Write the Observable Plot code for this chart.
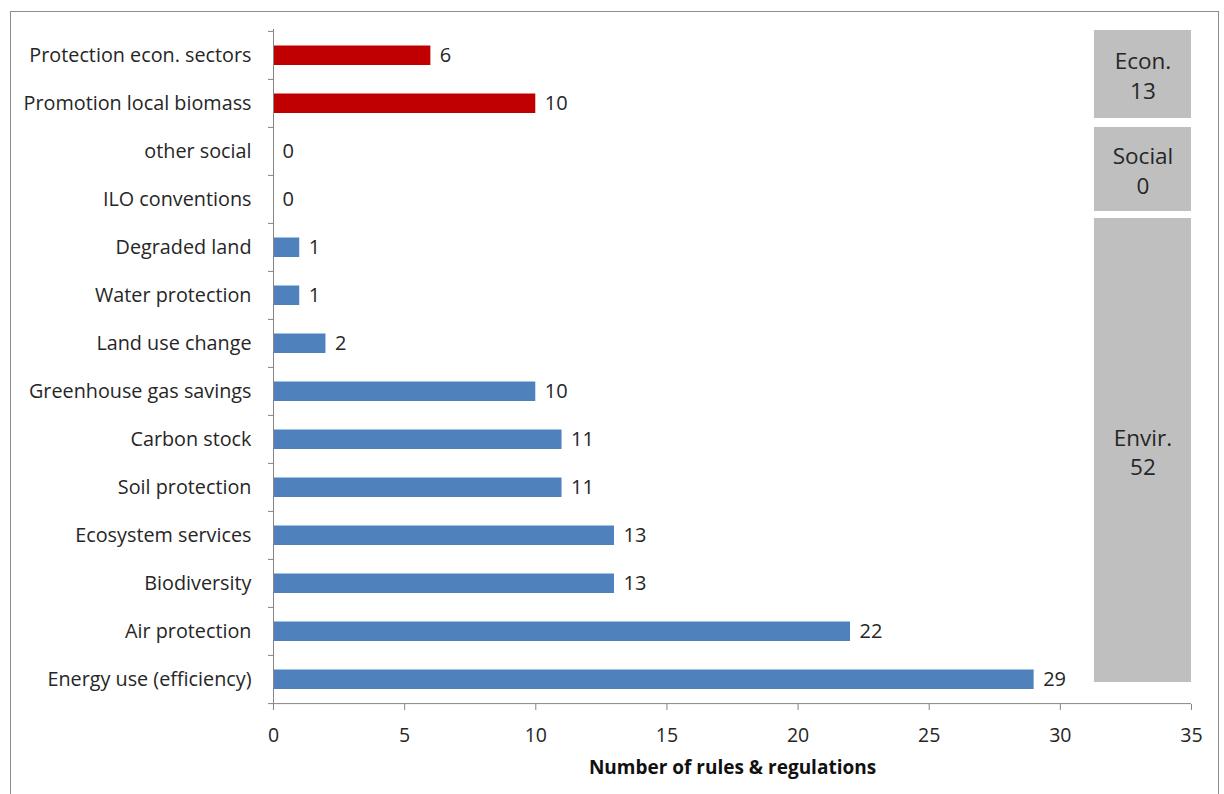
<!DOCTYPE html>
<html>
<head>
<meta charset="utf-8">
<script src="https://cdn.jsdelivr.net/npm/d3@7"></script>
<script src="https://cdn.jsdelivr.net/npm/@observablehq/plot@0.6"></script>
<style>
  html, body { margin: 0; padding: 0; background: #fff; overflow: hidden; }
  #wrap { position: relative; width: 1224px; height: 794px; }
  #border { position: absolute; left: 10px; top: 11px; width: 1209px; height: 800px; border: 1px solid #8c8c8c; box-sizing: border-box; pointer-events: none; }
  #chart { position: absolute; left: 0; top: 0; }
</style>
</head>
<body>
<div id="wrap"><div id="chart"></div><div id="border"></div></div>
<script>
// ---- data ----
const categories = [
  "Protection econ. sectors", "Promotion local biomass", "other social", "ILO conventions",
  "Degraded land", "Water protection", "Land use change", "Greenhouse gas savings",
  "Carbon stock", "Soil protection", "Ecosystem services", "Biodiversity",
  "Air protection", "Energy use (efficiency)"
];
const values = [6, 10, 0, 0, 1, 1, 2, 10, 11, 11, 13, 13, 22, 29];
const pillar = ["Econ.", "Econ.", "Social", "Social", "Envir.", "Envir.", "Envir.", "Envir.",
  "Envir.", "Envir.", "Envir.", "Envir.", "Envir.", "Envir."];
const groups = ["Econ.", "Social", "Envir."];
const groupTotals = [13, 0, 52];
const xTicks = [0, 5, 10, 15, 20, 25, 30, 35];
const xLabel = "Number of rules & regulations";

// ---- layout / style ----
const W = 1224, H = 794;
const mL = 273, mR = 33, mT = 29, mB = 90;
const step = (H - mT - mB) / categories.length;
const pxPerUnit = (W - mL - mR) / 35;
const stub = 5 / pxPerUnit;
const boxX1 = 31.3, boxX2 = 35;
const boxInsets = {"Econ.": [-1, 9], "Social": [0, 12], "Envir.": [-5, 21]};
const colors = {"Econ.": "#C00000", "Social": "#C00000", "Envir.": "#4F81BD"};
const font = "'Open Sans', Lato, sans-serif";
const axisColor = "#868686";
const textColor = "#262626";

const rows = categories.map((c, i) => ({cat: c, value: values[i], pillar: pillar[i]}));
const groupRows = groups.map((g, i) => {
  const cats = categories.filter((c, j) => pillar[j] === g);
  return {group: g, total: groupTotals[i], first: cats[0], last: cats[cats.length - 1], n: cats.length};
});

const boxMarks = groupRows.flatMap(g => {
  const [iT, iB] = boxInsets[g.group];
  const top = iT, bottom = g.n * step - iB;
  const dy = (top + bottom) / 2 - step / 2;
  return [
    Plot.rect([g], {x1: () => boxX1, x2: () => boxX2, y1: "first", y2: "last",
      fill: "#BFBFBF", insetTop: iT, insetBottom: iB}),
    Plot.text([g], {x: () => (boxX1 + boxX2) / 2, y: "first", dy,
      text: d => d.group + "\n" + d.total, fontSize: 22.5, lineHeight: 1.3,
      lineAnchor: "middle", fill: textColor})
  ];
});

const chart = Plot.plot({
  width: W, height: H,
  marginLeft: mL, marginRight: mR, marginTop: mT, marginBottom: mB,
  style: {fontFamily: font, background: "transparent"},
  x: {domain: [0, 35], ticks: xTicks},
  y: {domain: categories, padding: 0},
  marks: [
    ...boxMarks,
    Plot.barX(rows, {x: "value", y: "cat", fill: d => colors[d.pillar], insetTop: 14.5, insetBottom: 14}),
    Plot.text(rows, {x: "value", y: "cat", text: d => String(d.value), dx: 9, textAnchor: "start",
      fontSize: 20, fill: textColor}),
    // axis lines
    Plot.ruleX([0], {stroke: axisColor}),
    Plot.ruleY([categories[categories.length - 1]], {y: d => d, dy: step / 2, x1: -stub, x2: 35, stroke: axisColor}),
    // band boundary ticks
    Plot.ruleY(categories, {y: d => d, dy: -step / 2, x1: -stub, x2: 0, stroke: axisColor}),
    Plot.axisY({tickSize: 0, tickPadding: 22, fontSize: 19.8, color: textColor, label: null}),
    Plot.axisX({ticks: xTicks, tickSize: 6, tickPadding: 18, fontSize: 19.5, color: textColor,
      stroke: axisColor, label: null}),
    Plot.text([xLabel], {frameAnchor: "bottom", dy: 69, text: d => d, fontWeight: "bold",
      fontSize: 19, fill: "#111"})
  ]
});
chart.querySelectorAll("g[aria-label='x-axis tick'] path").forEach(p => p.setAttribute("stroke", axisColor));
document.getElementById("chart").appendChild(chart);
</script>
</body>
</html>
